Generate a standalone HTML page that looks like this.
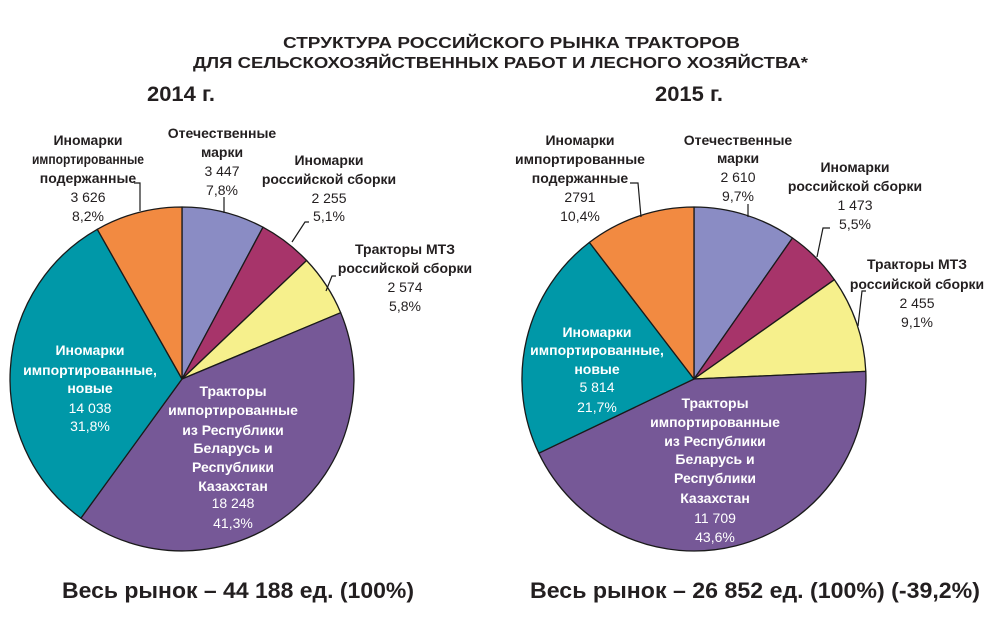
<!DOCTYPE html>
<html><head><meta charset="utf-8"><style>
html,body{margin:0;padding:0;background:#fff;}
svg{display:block;}
text{font-family:"Liberation Sans Narrow","Liberation Sans",sans-serif;fill:#231f20;}
.b{font-weight:bold;}
.l{font-size:14px;text-anchor:middle;}
.w{fill:#fff;}
</style></head><body>
<svg width="1000" height="629" viewBox="0 0 1000 629" xmlns="http://www.w3.org/2000/svg">
<rect width="1000" height="629" fill="#fff"/>
<text class="b" x="283" y="48" font-size="16" textLength="457" lengthAdjust="spacingAndGlyphs">СТРУКТУРА РОССИЙСКОГО РЫНКА ТРАКТОРОВ</text>
<text class="b" x="193" y="68" font-size="16" textLength="615" lengthAdjust="spacingAndGlyphs">ДЛЯ СЕЛЬСКОХОЗЯЙСТВЕННЫХ РАБОТ И ЛЕСНОГО ХОЗЯЙСТВА*</text>
<text class="b" x="147" y="101" font-size="21" textLength="68" lengthAdjust="spacingAndGlyphs">2014 г.</text>
<text class="b" x="655" y="101" font-size="21" textLength="68" lengthAdjust="spacingAndGlyphs">2015 г.</text>

<g stroke="#1a1a1a" stroke-width="1.3" stroke-linejoin="round">
<path d="M182,379 L182,207 A172,172 0 0 1 263.0,227.2 Z" fill="#8a8cc4"/>
<path d="M182,379 L263.0,227.2 A172,172 0 0 1 306.6,260.5 Z" fill="#a7346a"/>
<path d="M182,379 L306.6,260.5 A172,172 0 0 1 340.7,312.7 Z" fill="#f6f08c"/>
<path d="M182,379 L340.7,312.7 A172,172 0 0 1 80.9,518.1 Z" fill="#765897"/>
<path d="M182,379 L80.9,518.1 A172,172 0 0 1 97.3,229.3 Z" fill="#0098a8"/>
<path d="M182,379 L97.3,229.3 A172,172 0 0 1 182,207 Z" fill="#f28a41"/>

<path d="M694,379 L694,207 A172,172 0 0 1 792.5,238.0 Z" fill="#8a8cc4"/>
<path d="M694,379 L792.5,238.0 A172,172 0 0 1 834.4,279.7 Z" fill="#a7346a"/>
<path d="M694,379 L834.4,279.7 A172,172 0 0 1 865.8,371.4 Z" fill="#f6f08c"/>
<path d="M694,379 L865.8,371.4 A172,172 0 0 1 538.8,453.2 Z" fill="#765897"/>
<path d="M694,379 L538.8,453.2 A172,172 0 0 1 589.4,242.4 Z" fill="#0098a8"/>
<path d="M694,379 L589.4,242.4 A172,172 0 0 1 694,207 Z" fill="#f28a41"/>
</g>
<g stroke="#1a1a1a" stroke-width="1.2" fill="none">
<polyline points="134,183 140,183 140,211"/>
<polyline points="224,197 224,213"/>
<polyline points="309,222 305,222 292,242"/>
<polyline points="336,276 332,276 326,291"/>
<polyline points="630,183 638,183 641,217"/>
<polyline points="748,204 748,217"/>
<polyline points="830,228 823,228 817,257"/>
<polyline points="866,291 862,291 858,326"/>
</g>

<!-- 2014 outer labels -->
<text class="l b" x="88" y="145">Иномарки</text>
<text class="l b" x="88" y="164" textLength="112" lengthAdjust="spacingAndGlyphs">импортированные</text>
<text class="l b" x="88" y="183">подержанные</text>
<text class="l" x="88" y="202">3 626</text>
<text class="l" x="88" y="221">8,2%</text>

<text class="l b" x="222" y="138">Отечественные</text>
<text class="l b" x="222" y="157">марки</text>
<text class="l" x="222" y="176">3 447</text>
<text class="l" x="222" y="195">7,8%</text>

<text class="l b" x="329" y="165">Иномарки</text>
<text class="l b" x="329" y="184">российской сборки</text>
<text class="l" x="329" y="203">2 255</text>
<text class="l" x="329" y="221">5,1%</text>

<text class="l b" x="405" y="254">Тракторы МТЗ</text>
<text class="l b" x="405" y="273">российской сборки</text>
<text class="l" x="405" y="292">2 574</text>
<text class="l" x="405" y="311">5,8%</text>

<text class="l b w" x="90" y="355">Иномарки</text>
<text class="l b w" x="90" y="375">импортированные,</text>
<text class="l b w" x="90" y="393">новые</text>
<text class="l w" x="90" y="413">14 038</text>
<text class="l w" x="90" y="431">31,8%</text>

<text class="l b w" x="233" y="396">Тракторы</text>
<text class="l b w" x="233" y="415">импортированные</text>
<text class="l b w" x="233" y="435">из Республики</text>
<text class="l b w" x="233" y="453">Беларусь и</text>
<text class="l b w" x="233" y="472">Республики</text>
<text class="l b w" x="233" y="491">Казахстан</text>
<text class="l w" x="233" y="508">18 248</text>
<text class="l w" x="233" y="528">41,3%</text>

<!-- 2015 outer labels -->
<text class="l b" x="580" y="145">Иномарки</text>
<text class="l b" x="580" y="164" textLength="130" lengthAdjust="spacingAndGlyphs">импортированные</text>
<text class="l b" x="580" y="183">подержанные</text>
<text class="l" x="580" y="202">2791</text>
<text class="l" x="580" y="221">10,4%</text>

<text class="l b" x="738" y="145">Отечественные</text>
<text class="l b" x="738" y="163">марки</text>
<text class="l" x="738" y="182">2 610</text>
<text class="l" x="738" y="201">9,7%</text>

<text class="l b" x="855" y="172">Иномарки</text>
<text class="l b" x="855" y="191">российской сборки</text>
<text class="l" x="855" y="210">1 473</text>
<text class="l" x="855" y="229">5,5%</text>

<text class="l b" x="917" y="269">Тракторы МТЗ</text>
<text class="l b" x="917" y="289">российской сборки</text>
<text class="l" x="917" y="308">2 455</text>
<text class="l" x="917" y="327">9,1%</text>

<text class="l b w" x="597" y="337">Иномарки</text>
<text class="l b w" x="597" y="355">импортированные,</text>
<text class="l b w" x="597" y="374">новые</text>
<text class="l w" x="597" y="392">5 814</text>
<text class="l w" x="597" y="412">21,7%</text>

<text class="l b w" x="715" y="408">Тракторы</text>
<text class="l b w" x="715" y="427">импортированные</text>
<text class="l b w" x="715" y="446">из Республики</text>
<text class="l b w" x="715" y="464">Беларусь и</text>
<text class="l b w" x="715" y="483">Республики</text>
<text class="l b w" x="715" y="503">Казахстан</text>
<text class="l w" x="715" y="523">11 709</text>
<text class="l w" x="715" y="542">43,6%</text>

<text class="b" x="62" y="598" font-size="22" textLength="352" lengthAdjust="spacingAndGlyphs">Весь рынок – 44 188 ед. (100%)</text>
<text class="b" x="530" y="598" font-size="22" textLength="450" lengthAdjust="spacingAndGlyphs">Весь рынок – 26 852 ед. (100%) (-39,2%)</text>
</svg>
</body></html>
